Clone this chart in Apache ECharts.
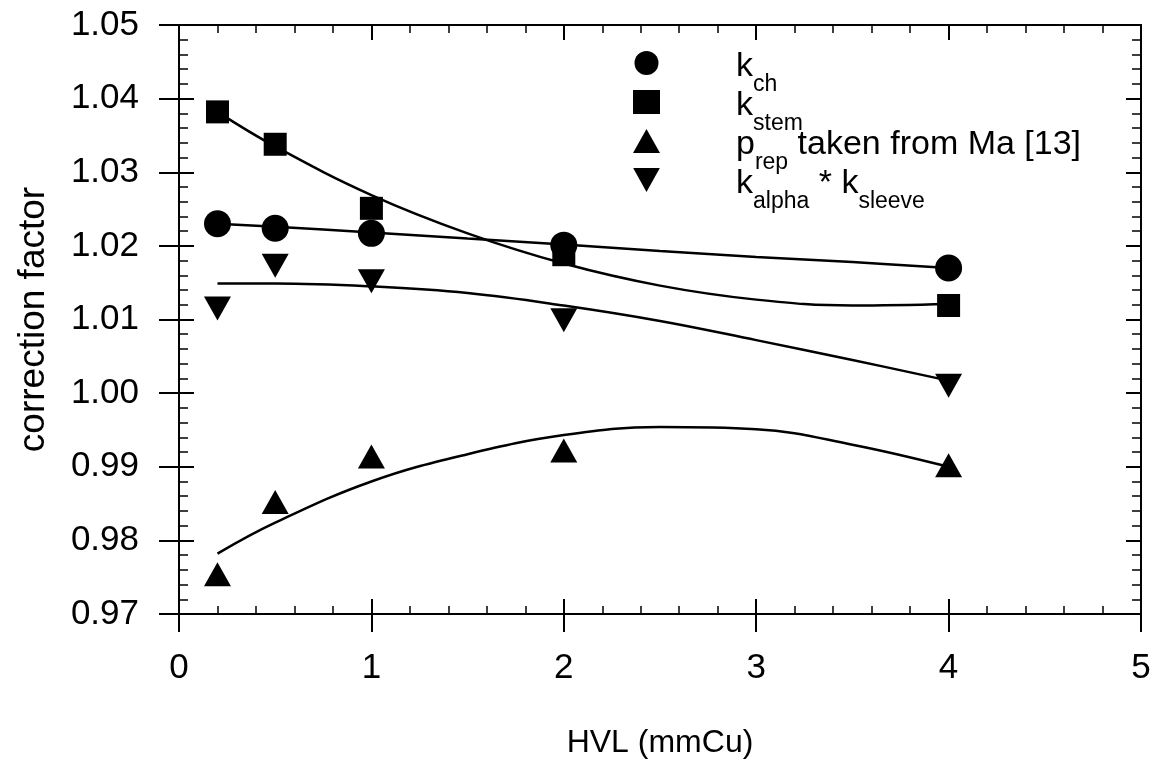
<!DOCTYPE html>
<html>
<head>
<meta charset="utf-8">
<title>correction factor vs HVL</title>
<script src="https://cdn.jsdelivr.net/npm/echarts@6/dist/echarts.min.js"></script>
<style>
    html, body { margin: 0; padding: 0; background: #fff; }
    #chart { width: 1159px; height: 760px; }
</style>
</head>
<body>
<div id="chart"></div>
<script>
    // measured points
    const hvl = [0.2, 0.5, 1, 2, 4];
    const kCh = [1.0230, 1.0224, 1.0217, 1.0201, 1.0170];
    const kStem = [1.0382, 1.0338, 1.0251, 1.0188, 1.0119];
    const pRep = [0.9754, 0.9852, 0.9914, 0.9922, 0.9902];
    const kAlphaSleeve = [1.0115, 1.0173, 1.0152, 1.0099, 1.0010];

    // fitted curves
    const fitX = [0.2, 0.5, 1, 1.5, 2, 2.5, 3, 3.5, 4];
    const fitCh = [1.0230, 1.0226, 1.0218, 1.0210, 1.0202, 1.0193, 1.0185, 1.0178, 1.0170];
    const fitStem = [1.0382, 1.0335, 1.0269, 1.0217, 1.0176, 1.0146, 1.0127, 1.0119, 1.0121];
    const fitAlpha = [1.0149, 1.0149, 1.0145, 1.0136, 1.0119, 1.0098, 1.0072, 1.0045, 1.0017];
    const fitRep = [0.9782, 0.9824, 0.9880, 0.9917, 0.9943, 0.9954, 0.9951, 0.9930, 0.9900];

    const xTicks = [0, 5, 1];          // min, max, interval
    const yTicks = [0.97, 1.05, 0.01];

    const seriesNames = ['k_ch', 'k_stem', 'p_rep', 'k_alpha*k_sleeve'];
    const legendLabels = {
        'k_ch': '{g| }{m|k}{s|ch}',
        'k_stem': '{g| }{m|k}{s|stem}',
        'p_rep': '{g| }{m|p}{s|rep}{m| taken from Ma [13]}',
        'k_alpha*k_sleeve': '{g| }{m|k}{s|alpha}{m| * k}{s|sleeve}'
    };

    const FONT = '"Liberation Sans", Arial, Helvetica, sans-serif';
    const BLACK = '#000';
    // downward triangle for the legend (the series uses a rotated triangle)
    const DOWN_TRIANGLE = 'path://M0,0 L20,0 L10,18 Z';

    const pair = (xs, ys) => xs.map((x, i) => [x, ys[i]]);

    function xAxisOf(position, main) {
        return {
            type: 'value',
            position: position,
            min: xTicks[0], max: xTicks[1], interval: xTicks[2],
            name: main ? 'HVL (mmCu)' : '',
            nameLocation: 'middle',
            nameGap: 113,
            nameTextStyle: { fontFamily: FONT, fontSize: 32, color: BLACK },
            axisLine: { show: true, onZero: false, lineStyle: { color: BLACK, width: 2 } },
            axisTick: { show: true, inside: !main, length: main ? 18 : 15, lineStyle: { color: BLACK, width: 2 } },
            minorTick: { show: !main, splitNumber: 5, length: 8, lineStyle: { color: BLACK, width: 1.5 } },
            axisLabel: { show: main, fontFamily: FONT, fontSize: 35, color: BLACK, margin: 37 },
            splitLine: { show: false }
        };
    }

    function yAxisOf(position, main) {
        return {
            type: 'value',
            position: position,
            min: yTicks[0], max: yTicks[1], interval: yTicks[2],
            name: main ? 'correction factor' : '',
            nameLocation: 'middle',
            nameGap: 127,
            nameTextStyle: { fontFamily: FONT, fontSize: 37, color: BLACK },
            axisLine: { show: true, onZero: false, lineStyle: { color: BLACK, width: 2 } },
            axisTick: { show: true, inside: !main, length: main ? 20 : 15, lineStyle: { color: BLACK, width: 2 } },
            minorTick: { show: !main, splitNumber: 5, length: 9, lineStyle: { color: BLACK, width: 1.5 } },
            axisLabel: {
                show: main, fontFamily: FONT, fontSize: 35, color: BLACK, margin: 40,
                formatter: (v) => v.toFixed(2)
            },
            splitLine: { show: false }
        };
    }

    function points(name, data, symbol, size, rotate) {
        return {
            name: name,
            type: 'scatter',
            data: data,
            symbol: symbol,
            symbolSize: size,
            symbolRotate: rotate || 0,
            itemStyle: { color: BLACK, opacity: 1 },
            z: 3
        };
    }

    function fit(name, data) {
        return {
            name: name,
            type: 'line',
            data: data,
            smooth: 0.4,
            showSymbol: false,
            lineStyle: { color: BLACK, width: 2.5 },
            z: 2
        };
    }

    const chart = echarts.init(document.getElementById('chart'));

    const option = {
        animation: false,
        backgroundColor: '#fff',
        grid: { left: 179, right: 18, top: 25, bottom: 146, containLabel: false, outerBoundsMode: 'none' },
        xAxis: [xAxisOf('bottom', true), xAxisOf('bottom', false), xAxisOf('top', false)],
        yAxis: [yAxisOf('left', true), yAxisOf('left', false), yAxisOf('right', false)],
        legend: {
            data: [
                { name: seriesNames[0] },
                { name: seriesNames[1] },
                { name: seriesNames[2] },
                { name: seriesNames[3], icon: DOWN_TRIANGLE }
            ],
            orient: 'vertical',
            left: 633,
            top: 46,
            padding: 0,
            itemGap: -11,
            itemWidth: 27,
            itemHeight: 24,
            selectedMode: false,
            formatter: (name) => legendLabels[name],
            textStyle: {
                color: BLACK,
                rich: {
                    g: { width: 71, fontSize: 34, lineHeight: 34, fontFamily: FONT },
                    m: { fontSize: 34, lineHeight: 34, fontFamily: FONT, color: BLACK,
                         verticalAlign: 'top', padding: [4, 0, 0, 0] },
                    s: { fontSize: 23, lineHeight: 23, fontFamily: FONT, color: BLACK,
                         verticalAlign: 'top', padding: [27, 0, 0, 0] }
                }
            }
        },
        series: [
            points(seriesNames[0], pair(hvl, kCh), 'circle', 27),
            points(seriesNames[1], pair(hvl, kStem), 'rect', 23),
            points(seriesNames[2], pair(hvl, pRep), 'triangle', [27, 24]),
            points(seriesNames[3], pair(hvl, kAlphaSleeve), 'triangle', [27, 24], 180),
            fit('fit k_ch', pair(fitX, fitCh)),
            fit('fit k_stem', pair(fitX, fitStem)),
            fit('fit p_rep', pair(fitX, fitRep)),
            fit('fit k_alpha*k_sleeve', pair(fitX, fitAlpha))
        ]
    };

    chart.setOption(option);
</script>
</body>
</html>
